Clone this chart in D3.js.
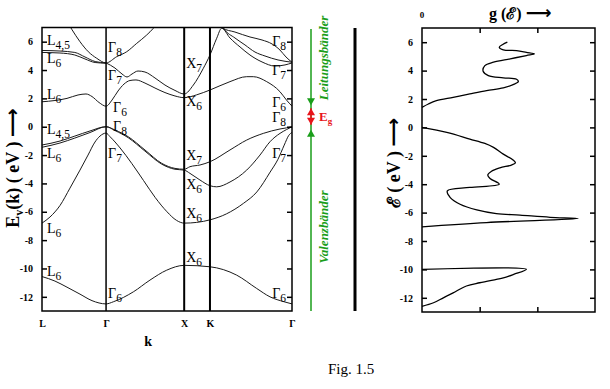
<!DOCTYPE html>
<html lang="de">
<head>
<meta charset="UTF-8">
<title>Bandstruktur</title>
<script src="https://d3js.org/d3.v7.min.js"></script>
<style>
  body { margin: 0; background: #fff; }
  svg { display: block; font-family: "Liberation Serif", "Times New Roman", serif; }
</style>
</head>
<body>
<svg id="chart" width="610" height="389"></svg>
<script>
// high symmetry points along k
var symNames = ["L", "Γ", "X", "K", "Γ"];
var symK = [0, 0.82, 1.82, 2.15, 3.2];
var eTicks = [6, 4, 2, 0, -2, -4, -6, -8, -10, -12];
var gTicks = [1, 2];

// band gap (eV)
var gapTop = 1.45, gapBottom = 0;

// conduction bands, [k, E]
var bandC1 = [[0,5.38],[0.23,5.34],[0.42,5.24],[0.55,4.92],[0.68,4.6],[0.82,4.5]];
var bandC2 = [[0,5.24],[0.23,5.2],[0.42,5.06],[0.55,4.78],[0.68,4.53],[0.82,4.48]];
var bandC3 = [[0.28,7.8],[0.38,6.88],[0.486,6.0],[0.593,5.29],[0.70,4.83],[0.82,4.5],[0.956,4.94],[1.084,5.29],[1.212,5.88],[1.34,6.47],[1.425,6.94],[1.51,7.5]];
var bandC4 = [[0,1.76],[0.166,1.85],[0.32,2.0],[0.461,2.24],[0.563,2.31],[0.64,2.13],[0.73,1.71],[0.82,1.45],[0.896,1.88],[0.973,2.52],[1.05,3.01],[1.126,3.26],[1.203,3.3],[1.318,3.08],[1.446,2.73],[1.574,2.41],[1.702,2.17],[1.82,2.05],[1.98,2.25],[2.15,2.59],[2.406,3.18],[2.62,3.53],[2.705,3.53],[2.876,3.18],[3.046,2.47],[3.13,1.88],[3.2,1.45]];
var bandC5 = [[0.82,4.5],[0.934,4.14],[1.024,3.72],[1.088,3.51],[1.152,3.72],[1.229,3.93],[1.318,3.86],[1.446,3.44],[1.574,2.94],[1.702,2.56],[1.82,2.31],[1.937,2.94],[2.065,4.12],[2.15,5.06],[2.236,6.24],[2.30,6.95],[2.406,6.26],[2.534,5.63],[2.662,5.06],[2.816,4.57],[2.982,4.28],[3.11,4.36],[3.2,4.5]];
var bandC6 = [[2.253,7.4],[2.304,6.97],[2.47,6.68],[2.662,6.33],[2.816,6.12],[2.944,5.84],[3.046,5.41],[3.123,4.92],[3.2,4.55]];
var bandC7 = [[2.278,7.4],[2.33,6.9],[2.47,6.26],[2.598,5.77],[2.726,5.27],[2.854,4.99],[3.021,4.71],[3.2,4.55]];

// valence bands
var bandV1 = [[0,-1.29],[0.23,-1.01],[0.42,-0.66],[0.614,-0.3],[0.82,0],[0.934,-0.23],[1.105,-0.71],[1.318,-1.64],[1.532,-2.58],[1.702,-2.94],[1.82,-3.0],[1.894,-2.82],[2.022,-2.7],[2.15,-2.47],[2.406,-1.64],[2.62,-0.94],[2.833,-0.47],[3.046,-0.16],[3.13,-0.08],[3.2,0]];
var bandV2 = [[0,-1.45],[0.23,-1.15],[0.42,-0.8],[0.614,-0.41],[0.82,0],[0.934,-0.27],[1.105,-0.78],[1.318,-1.72],[1.532,-2.64],[1.702,-3.0],[1.82,-3.06],[1.894,-3.29],[2.022,-3.76],[2.15,-4.16],[2.236,-4.24],[2.406,-3.9],[2.62,-3.06],[2.79,-2.0],[2.918,-1.06],[3.046,-0.47],[3.13,-0.2],[3.2,0]];
var bandV3 = [[0,-6.8],[0.102,-6.37],[0.23,-5.56],[0.358,-4.33],[0.486,-3.06],[0.589,-2.0],[0.678,-1.08],[0.742,-0.66],[0.82,-0.45],[0.87,-0.7],[1.0,-1.5],[1.15,-2.6],[1.3,-3.8],[1.45,-5.0],[1.6,-6.0],[1.72,-6.6],[1.82,-6.8],[1.98,-6.75],[2.15,-6.57],[2.36,-6.15],[2.58,-5.4],[2.75,-4.6],[2.92,-3.2],[3.02,-2.3],[3.1,-1.3],[3.16,-0.6],[3.2,-0.4]];
var bandV4 = [[0,-10.57],[0.166,-10.89],[0.32,-11.32],[0.486,-11.81],[0.64,-12.27],[0.82,-12.5],[0.913,-12.35],[1.169,-11.65],[1.382,-10.82],[1.596,-10.12],[1.82,-9.78],[2.15,-9.88],[2.492,-10.47],[2.748,-11.41],[2.918,-12.0],[3.1,-12.35],[3.2,-12.5]];

var bands = [bandC1, bandC2, bandC3, bandC4, bandC5, bandC6, bandC7, bandV1, bandV2, bandV3, bandV4];

// state labels: [letter, index, E]
var labelsL  = [["L","4,5",5.77],["L","6",4.5],["L","6",1.96],["L","4,5",-0.52],["L","6",-2.2],["L","6",-7.5],["L","6",-10.55]];
var labelsG1 = [["Γ","8",5.27,2],["Γ","7",3.3,2],["Γ","6",1.04,7],["Γ","8",-0.3,7],["Γ","7",-2.2,2],["Γ","6",-12.1,2]];
var labelsX  = [["X","7",4.14],["X","6",1.46],["X","7",-2.35],["X","6",-4.4],["X","6",-6.45],["X","6",-9.55]];
var labelsG2 = [["Γ","8",5.7],["Γ","7",3.65],["Γ","6",1.39],["Γ","8",0.33],["Γ","7",-2.2],["Γ","6",-12.1]];

// density of states, [g, E]
var dosLower = [[0,-10.0],[1.81,-10.0],[1.59,-10.35],[1.41,-10.6],[1.29,-10.7],[1.0,-10.94],[0.77,-11.17],[0.54,-11.65],[0.37,-12.0],[0.2,-12.35],[0,-12.6]];
var dosValence = [[0,-7.0],[1.12,-6.7],[2.71,-6.42],[2.22,-6.33],[1.7,-6.18],[1.29,-6.07],[0.95,-5.81],[0.66,-5.41],[0.49,-4.94],[0.44,-4.47],[0.83,-4.23],[1.34,-4.0],[1.18,-3.6],[1.14,-3.35],[1.2,-3.1],[1.35,-2.85],[1.55,-2.65],[1.62,-2.5],[1.58,-2.3],[1.41,-1.88],[1.24,-1.41],[1.09,-1.13],[0.83,-0.82],[0.43,-0.35],[0,0.0]];
var dosConduction = [[0,1.41],[0.11,1.65],[0.25,1.88],[0.54,2.12],[0.83,2.36],[1.12,2.59],[1.41,2.78],[1.58,3.01],[1.67,3.22],[1.64,3.39],[1.41,3.49],[1.15,3.65],[1.06,3.95],[1.09,4.35],[1.24,4.59],[1.53,4.83],[1.81,5.06],[1.95,5.18],[1.81,5.29],[1.64,5.41],[1.41,5.46],[1.34,5.65],[1.4,5.84],[1.48,6.0]];

var svg = d3.select("#chart");

var x = d3.scaleLinear().domain([0, 3.2]).range([42, 292]);
var y = d3.scaleLinear().domain([-13, 7]).range([311, 27.5]);
var gx = d3.scaleLinear().domain([0, 3]).range([422, 595]);
var gy = d3.scaleLinear().domain([-13, 7]).range([312, 28]);

function styleAxis(g) {
  g.select(".domain").remove();
  g.selectAll(".tick line").attr("stroke", "#000").attr("stroke-width", 1.5);
  g.selectAll("text").attr("font-family", "Liberation Serif").attr("font-weight", "bold").attr("font-size", 10).attr("fill", "#000");
}

// ---------- left panel: band structure ----------
svg.append("clipPath").attr("id", "clipL")
  .append("rect").attr("x", 42).attr("y", 27.5).attr("width", 250).attr("height", 283.5);

var line = d3.line()
  .x(function(d) { return x(d[0]); })
  .y(function(d) { return y(d[1]); })
  .curve(d3.curveMonotoneX);

svg.append("g").attr("clip-path", "url(#clipL)")
  .selectAll("path").data(bands).enter().append("path")
  .attr("d", line).attr("fill", "none").attr("stroke", "#1a1a1a").attr("stroke-width", 1);

// symmetry lines
svg.selectAll(".sym").data(symK.slice(1, 4)).enter().append("line")
  .attr("x1", function(d) { return x(d); }).attr("x2", function(d) { return x(d); })
  .attr("y1", y(7)).attr("y2", y(-13))
  .attr("stroke", "#000").attr("stroke-width", function(d, i) { return i == 0 ? 1.5 : 2; });

svg.append("rect").attr("x", 42).attr("y", y(7)).attr("width", 250).attr("height", y(-13) - y(7))
  .attr("fill", "none").attr("stroke", "#000").attr("stroke-width", 1.5);

svg.append("g").attr("transform", "translate(42,0)")
  .call(d3.axisLeft(y).tickValues(eTicks).tickSize(-5).tickPadding(9).tickFormat(function(d) { return String(d); }))
  .call(styleAxis);
svg.append("g").attr("transform", "translate(292,0)")
  .call(d3.axisRight(y).tickValues(eTicks).tickSize(-5).tickFormat(""))
  .call(styleAxis);
svg.append("g").attr("transform", "translate(0,311)")
  .call(d3.axisBottom(x).tickValues(symK).tickSize(0).tickPadding(9).tickFormat(function(d, i) { return symNames[i]; }))
  .call(styleAxis);

svg.append("text").attr("x", x(1.36)).attr("y", 346).attr("text-anchor", "middle")
  .attr("font-weight", "bold").attr("font-size", 14).text("k");

// state labels
function stateLabel(px, py, d, anchor) {
  var t = svg.append("text").attr("x", px).attr("y", py).attr("font-size", 14)
    .attr("text-anchor", anchor || "start");
  t.append("tspan").text(d[0]);
  t.append("tspan").attr("dy", 4).attr("font-size", 11.5).text(d[1]);
}
labelsL.forEach(function(d) { stateLabel(x(symK[0]) + 5, y(d[2]), d); });
labelsG1.forEach(function(d) { stateLabel(x(symK[1]) + d[3], y(d[2]), d); });
labelsX.forEach(function(d) { stateLabel(x(symK[2]) + 2, y(d[2]), d); });
labelsG2.forEach(function(d) { stateLabel(x(symK[4]) - 6, y(d[2]), d, "end"); });

// y title
svg.append("text").attr("transform", "translate(19,168) rotate(-90)")
  .attr("text-anchor", "middle").attr("font-weight", "bold").attr("font-size", 18)
  .call(function(t) {
    t.append("tspan").text("E");
    t.append("tspan").attr("dy", 4).attr("font-size", 12).text("v");
    t.append("tspan").attr("dy", -4).text("(k) ( eV ) ");
    t.append("tspan").attr("font-family", "DejaVu Sans").attr("font-size", 20).text("⟶");
  });

// ---------- gap annotation ----------
var green = "#1a9e1a", red = "#e8141a";
var ax = 311;
svg.append("line").attr("x1", ax).attr("x2", ax).attr("y1", 29).attr("y2", 311)
  .attr("stroke", green).attr("stroke-width", 1.5);
var yt = y(gapTop), yb = y(gapBottom);
svg.append("line").attr("x1", ax).attr("x2", ax).attr("y1", yt + 2).attr("y2", yb - 2)
  .attr("stroke", red).attr("stroke-width", 1.5);
function tri(tipY, dir, col) {
  svg.append("path")
    .attr("d", "M" + ax + "," + tipY + "L" + (ax - 4) + "," + (tipY - dir * 7) + "L" + (ax + 4) + "," + (tipY - dir * 7) + "Z")
    .attr("fill", col);
}
tri(yt - 1, 1, green);
tri(yt + 2, -1, red);
tri(yb - 2, 1, red);
tri(yb + 3, -1, green);

svg.append("text").attr("x", 319).attr("y", (yt + yb) / 2 + 5).attr("fill", red)
  .attr("font-weight", "bold").attr("font-size", 13)
  .call(function(t) {
    t.append("tspan").text("E");
    t.append("tspan").attr("dy", 3).attr("font-size", 9).text("g");
  });

svg.append("text").attr("transform", "translate(328,58) rotate(-90)")
  .attr("text-anchor", "middle").attr("fill", green).attr("font-style", "italic")
  .attr("font-weight", "bold").attr("font-size", 13).text("Leitungsbänder");
svg.append("text").attr("transform", "translate(328,227) rotate(-90)")
  .attr("text-anchor", "middle").attr("fill", green).attr("font-style", "italic")
  .attr("font-weight", "bold").attr("font-size", 13).text("Valenzbänder");

svg.append("line").attr("x1", 355).attr("x2", 355).attr("y1", 28).attr("y2", 311)
  .attr("stroke", "#000").attr("stroke-width", 3);

// ---------- right panel: density of states ----------
svg.append("rect").attr("x", 422).attr("y", gy(7)).attr("width", 173).attr("height", gy(-13) - gy(7))
  .attr("fill", "none").attr("stroke", "#000").attr("stroke-width", 1.5);

svg.append("g").attr("transform", "translate(422,0)")
  .call(d3.axisLeft(gy).tickValues(eTicks).tickSize(-5).tickPadding(9).tickFormat(function(d) { return String(d); }))
  .call(styleAxis);
svg.append("g").attr("transform", "translate(595,0)")
  .call(d3.axisRight(gy).tickValues(eTicks).tickSize(-5).tickFormat(""))
  .call(styleAxis);
svg.append("g").attr("transform", "translate(0," + gy(7) + ")")
  .call(d3.axisTop(gx).tickValues(gTicks).tickSize(-5).tickFormat(""))
  .call(styleAxis);
svg.append("g").attr("transform", "translate(0," + gy(-13) + ")")
  .call(d3.axisBottom(gx).tickValues(gTicks).tickSize(-5).tickFormat(""))
  .call(styleAxis);

var dosLine = d3.line()
  .x(function(d) { return gx(d[0]); })
  .y(function(d) { return gy(d[1]); })
  .curve(d3.curveCatmullRom.alpha(0.5));
[dosLower, dosValence, dosConduction].forEach(function(s) {
  svg.append("path").attr("d", dosLine(s)).attr("fill", "none")
    .attr("stroke", "#000").attr("stroke-width", 1.3);
});

svg.append("text").attr("x", gx(0)).attr("y", 18).attr("text-anchor", "middle")
  .attr("font-weight", "bold").attr("font-size", 9).text("0");
svg.append("text").attr("x", 489).attr("y", 19).attr("font-weight", "bold").attr("font-size", 16)
  .call(function(t) {
    t.append("tspan").text("g (ℰ) ");
    t.append("tspan").attr("font-family", "DejaVu Sans").attr("font-size", 18).text("⟶");
  });
svg.append("text").attr("transform", "translate(400,163) rotate(-90)")
  .attr("text-anchor", "middle").attr("font-weight", "bold").attr("font-size", 18)
  .call(function(t) {
    t.append("tspan").text("ℰ ( eV ) ");
    t.append("tspan").attr("font-family", "DejaVu Sans").attr("font-size", 20).text("⟶");
  });

svg.append("text").attr("x", 328).attr("y", 374).attr("font-size", 15).text("Fig. 1.5");
</script>
</body>
</html>
